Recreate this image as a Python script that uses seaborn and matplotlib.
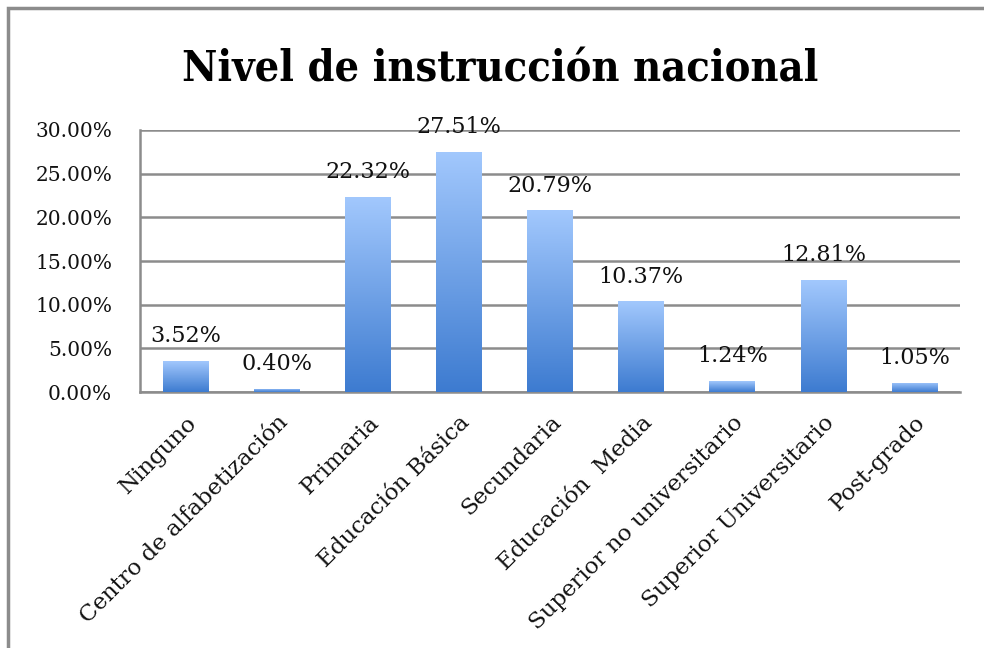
import numpy as np
import pandas as pd
import matplotlib
matplotlib.use("Agg")
import matplotlib.pyplot as plt
import seaborn as sns
from matplotlib.colors import LinearSegmentedColormap
from matplotlib.ticker import FuncFormatter, FixedLocator
from matplotlib.patches import Rectangle

categories = [
    "Ninguno",
    "Centro de alfabetización",
    "Primaria",
    "Educación Básica",
    "Secundaria",
    "Educación  Media",
    "Superior no universitario",
    "Superior Universitario",
    "Post-grado",
]
values = [3.52, 0.40, 22.32, 27.51, 20.79, 10.37, 1.24, 12.81, 1.05]
title = "Nivel de instrucción nacional"

df = pd.DataFrame({"nivel": categories, "pct": values})

sns.set_style("white")
plt.rcParams["font.family"] = ["DejaVu Serif", "DejaVu Sans"]

fig = plt.figure(figsize=(9.84, 6.48), dpi=100)
ax = fig.add_axes([0.1423, 0.395, 0.8333, 0.4044])

sns.barplot(data=df, x="nivel", y="pct", ax=ax, width=0.5,
            color="#6a9ee6", saturation=1, linewidth=0)

# vertical gradient on each bar (light on top, darker at the bottom)
cmap = LinearSegmentedColormap.from_list("grad", ["#3d7bd0", "#a2c8fd"])
grad = np.linspace(0, 1, 256).reshape(-1, 1)
for bar in ax.patches:
    x0, y0 = bar.get_x(), bar.get_y()
    w, h = bar.get_width(), bar.get_height()
    bar.set_facecolor("none")
    im = ax.imshow(grad, cmap=cmap, origin="lower", aspect="auto",
                   extent=[x0, x0 + w, y0, y0 + h], zorder=3)
    im.set_clip_path(bar)

ax.set_xlim(-0.5, len(categories) - 0.5)
ax.set_ylim(0, 30)
ax.set_yticks(np.arange(0, 31, 5))
ax.yaxis.set_major_formatter(FuncFormatter(lambda v, p: f"{v:.2f}%"))
ax.grid(axis="y", color="#8c8c8c", linewidth=1.8, zorder=0)
ax.set_axisbelow(True)
for side in ["top", "right"]:
    ax.spines[side].set_visible(False)
for side in ["left", "bottom"]:
    ax.spines[side].set_color("#8c8c8c")
    ax.spines[side].set_linewidth(1.8)

# category ticks between bars, labels at the bar centres
ax.set_xticks(range(len(categories)))
ax.set_xticklabels(categories, rotation=45, ha="right", rotation_mode="anchor",
                   fontsize=16.5, color="#111111")
ax.tick_params(axis="x", length=0, pad=14)
ax.xaxis.set_minor_locator(FixedLocator(np.arange(-0.5, len(categories), 1)))
ax.tick_params(axis="x", which="minor", length=7, width=1.8, color="#8c8c8c",
               direction="out")
ax.tick_params(axis="y", length=7, width=1.8, color="#8c8c8c", labelsize=14.5,
               direction="out", pad=13, labelcolor="#111111")
ax.set_xlabel("")
ax.set_ylabel("")

for i, v in enumerate(values):
    ax.annotate(f"{v:.2f}%", (i, v), xytext=(0, 10), textcoords="offset points",
                ha="center", va="bottom", fontsize=16, zorder=5,
                color="#111111", annotation_clip=False)

fig.text(0.508, 0.893, title, ha="center", va="center", fontsize=31,
         fontweight="bold", fontstretch="condensed", color="black")

# outer frame of the chart object
fig.patches.append(Rectangle((8 / 984, -0.1), 1.1, 1 - 8 / 648 + 0.1,
                             transform=fig.transFigure, fill=False,
                             edgecolor="#8c8c8c", linewidth=2.5))

fig.savefig("out.png", dpi=100)
